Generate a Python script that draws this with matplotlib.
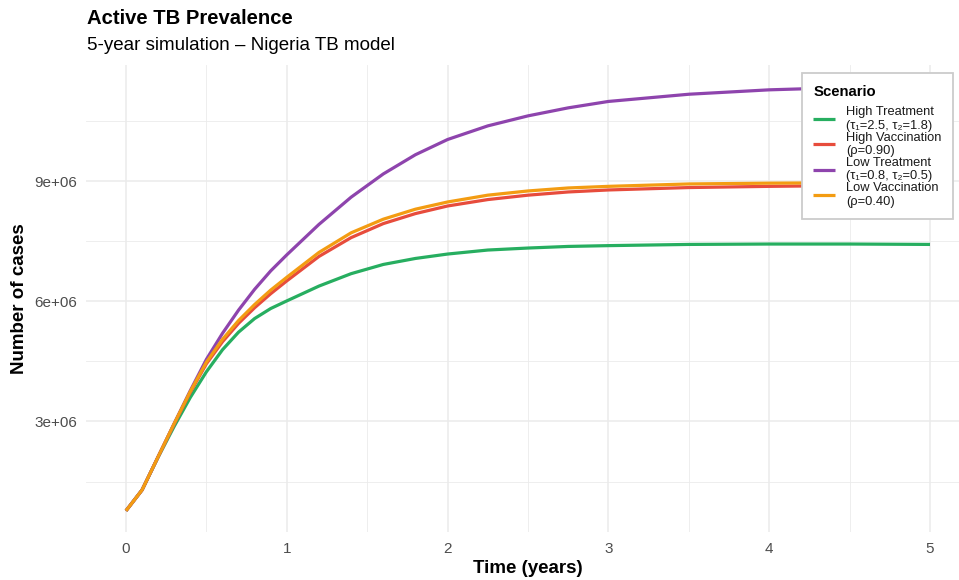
import matplotlib
matplotlib.use("Agg")
import matplotlib.pyplot as plt
from matplotlib.ticker import MultipleLocator, FixedLocator

plt.rcParams['font.family'] = ['Liberation Sans', 'DejaVu Sans']

# ---- data (millions of cases) ----
time_years = [0, 0.1, 0.2, 0.3, 0.4, 0.5, 0.6, 0.7, 0.8, 0.9, 1.0, 1.2, 1.4, 1.6, 1.8,
              2.0, 2.25, 2.5, 2.75, 3.0, 3.5, 4.0, 4.5, 5.0]
high_treatment = [0.77, 1.29, 2.11, 2.88, 3.60, 4.24, 4.79, 5.23, 5.57, 5.82, 6.01, 6.38,
                  6.69, 6.92, 7.07, 7.18, 7.28, 7.33, 7.37, 7.39, 7.42, 7.43, 7.43, 7.42]
high_vaccination = [0.77, 1.29, 2.12, 2.94, 3.73, 4.44, 4.99, 5.45, 5.84, 6.19, 6.51, 7.12,
                    7.59, 7.94, 8.19, 8.38, 8.54, 8.65, 8.73, 8.78, 8.84, 8.87, 8.89, 8.90]
low_treatment = [0.77, 1.29, 2.12, 2.95, 3.77, 4.55, 5.20, 5.78, 6.30, 6.76, 7.16, 7.92,
                 8.60, 9.18, 9.66, 10.04, 10.38, 10.63, 10.83, 10.99, 11.17, 11.28, 11.34, 11.37]
low_vaccination = [0.77, 1.29, 2.12, 2.95, 3.75, 4.48, 5.05, 5.52, 5.92, 6.28, 6.60, 7.22,
                   7.71, 8.05, 8.30, 8.48, 8.65, 8.755, 8.83, 8.87, 8.93, 8.95, 8.96, 8.97]

scenario_labels = ["High Treatment\n(τ₁=2.5, τ₂=1.8)",
                   "High Vaccination\n(ρ=0.90)",
                   "Low Treatment\n(τ₁=0.8, τ₂=0.5)",
                   "Low Vaccination\n(ρ=0.40)"]
scenario_colors = ["#27AE60", "#E74C3C", "#8E44AD", "#F39C12"]
series = [high_treatment, high_vaccination, low_treatment, low_vaccination]

x_ticks = [0, 1, 2, 3, 4, 5]
y_ticks = [3e6, 6e6, 9e6]
y_tick_labels = ["3e+06", "6e+06", "9e+06"]

# ---- figure ----
W, H = 959, 580
fig = plt.figure(figsize=(W / 100, H / 100), dpi=100, facecolor="white")
ax = fig.add_axes([85.8 / W, 1 - 532 / H, 884.4 / W, (532 - 65) / H])
ax.set_facecolor("white")

for vals, lab, col in zip(series, scenario_labels, scenario_colors):
    ax.plot(time_years, [v * 1e6 for v in vals], color=col, lw=2.3, label=lab,
            solid_capstyle="butt", solid_joinstyle="round")

all_vals = [v * 1e6 for s in series for v in s]
lo, hi = min(all_vals), max(all_vals)
pad = 0.05 * (hi - lo)
ax.set_ylim(lo - pad, hi + pad)
ax.set_xlim(-0.25, 5.25)

ax.xaxis.set_major_locator(FixedLocator(x_ticks))
ax.xaxis.set_minor_locator(MultipleLocator(0.5))
ax.yaxis.set_major_locator(FixedLocator(y_ticks))
ax.set_yticklabels(y_tick_labels)
ax.yaxis.set_minor_locator(FixedLocator([1.5e6, 4.5e6, 7.5e6, 10.5e6]))

ax.grid(which="major", color="#EBEBEB", lw=1.1)
ax.grid(which="minor", color="#EBEBEB", lw=0.6)
ax.set_axisbelow(True)
for s in ax.spines.values():
    s.set_visible(False)
ax.tick_params(which="both", length=0)
ax.tick_params(axis="x", pad=7.5, labelsize=11, labelcolor="#4D4D4D")
ax.tick_params(axis="y", pad=6, labelsize=11, labelcolor="#4D4D4D")

ax.set_xlabel("Time (years)", fontsize=13.5, fontweight="bold", labelpad=2.5)
ax.set_ylabel("Number of cases", fontsize=13.5, fontweight="bold", labelpad=5)

fig.text(87 / W, 1 - 19 / H, "Active TB Prevalence", fontsize=14.6, fontweight="bold",
         ha="left", va="center")
fig.text(87 / W, 1 - 46 / H, "5-year simulation – Nigeria TB model", fontsize=13.5,
         ha="left", va="center")

leg = ax.legend(loc="upper right", bbox_to_anchor=(953 / W, 1 - 73 / H),
                bbox_transform=fig.transFigure, title="Scenario",
                title_fontproperties={"weight": "bold", "size": 10.7},
                prop={"size": 9.25}, frameon=True, fancybox=False,
                edgecolor="#CCCCCC", facecolor="white", framealpha=1,
                handlelength=1.7, handletextpad=0.85, labelspacing=-0.02,
                borderpad=0.9, borderaxespad=0, alignment="left")
leg._legend_box.sep = 5.6
leg.get_frame().set_linewidth(1.3)
for t in leg.get_texts():
    t.set_linespacing(1.17)
    t.set_color("#1A1A1A")

fig.savefig("out.png", dpi=100, facecolor="white")
